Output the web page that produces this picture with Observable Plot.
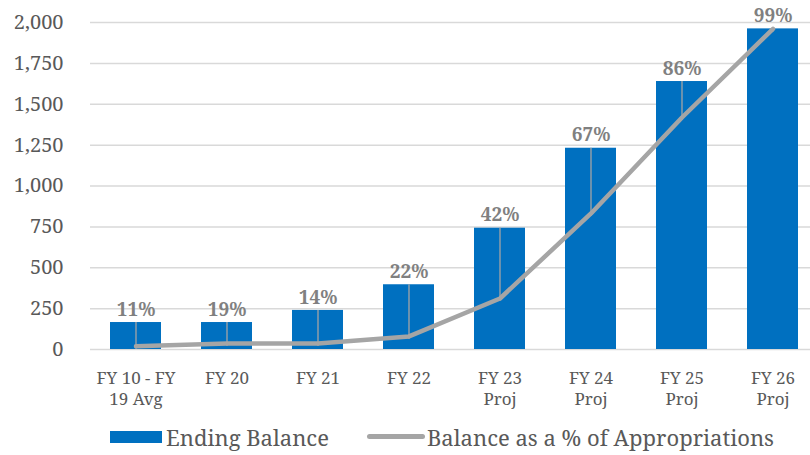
<!DOCTYPE html>
<html>
<head>
<meta charset="utf-8">
<script src="https://cdn.jsdelivr.net/npm/d3@7"></script>
<script src="https://cdn.jsdelivr.net/npm/@observablehq/plot@0.6"></script>
<style>
  html, body { margin: 0; padding: 0; background: #fff; }
  #chart { width: 810px; }
  .legend { display: flex; align-items: center; height: 37px; padding-left: 110px;
    font-family: 'Noto Serif', 'Liberation Serif', serif; font-size: 22px; color: #595959; }
  .sw-bar { width: 52px; height: 12px; background: #0070c0; margin-right: 4px; }
  .sw-line { width: 58px; height: 5px; border-radius: 3px; background: #a5a5a5; margin-left: 38px; margin-right: 2px; }
</style>
</head>
<body>
<div id="chart"></div>
<script>
const categories = ["FY 10 - FY\n19 Avg", "FY 20", "FY 21", "FY 22", "FY 23\nProj", "FY 24\nProj", "FY 25\nProj", "FY 26\nProj"];
const endingBalance = [165, 165, 239, 396, 742, 1231, 1639, 1961];
const lineLevel = [20, 37, 37, 80, 312, 832, 1419, 1961];
const pctLabels = [11, 19, 14, 22, 42, 67, 86, 99];
const yTicks = [0, 250, 500, 750, 1000, 1250, 1500, 1750, 2000];

const data = categories.map((c, i) => ({cat: c, bal: endingBalance[i], lvl: lineLevel[i], pct: pctLabels[i]}));

const font = "'Noto Serif', 'Liberation Serif', serif";
const chart = Plot.plot({
  width: 810,
  height: 418,
  marginTop: 22,
  marginBottom: 69,
  marginLeft: 90,
  marginRight: 0,
  style: {fontFamily: font, background: "#fff", overflow: "visible"},
  x: {domain: categories, range: [90, 818], paddingInner: 0.44, paddingOuter: 0.22},
  y: {domain: [0, 2000]},
  marks: [
    Plot.ruleY(yTicks, {stroke: "#d9d9d9", strokeWidth: 1.5}),
    Plot.barY(data, {x: "cat", y: "bal", fill: "#0070c0"}),
    Plot.ruleX(data, {x: "cat", y1: "lvl", y2: "bal", stroke: "#a5a5a5", strokeWidth: 1.3, insetTop: 3}),
    Plot.line(data, {x: "cat", y: "lvl", stroke: "#a5a5a5", strokeWidth: 4.5, strokeLinejoin: "round", strokeLinecap: "round"}),
    Plot.text(data, {x: "cat", y: "bal", text: d => d.pct + "%", dy: -13, fill: "#808080", fontWeight: "bold", fontSize: 19, fontFamily: font}),
    Plot.axisY({ticks: yTicks, tickFormat: d3.format(",.0f"), tickSize: 0, tickPadding: 27, fontSize: 20, color: "#595959", label: null, fontFamily: font}),
    Plot.axisX({tickSize: 0, tickPadding: 20, fontSize: 17, lineHeight: 1.22, color: "#595959", label: null, fontFamily: font})
  ]
});
document.getElementById("chart").appendChild(chart);

const legend = document.createElement("div");
legend.className = "legend";
legend.innerHTML = '<span class="sw-bar"></span><span>Ending Balance</span><span class="sw-line"></span><span>Balance as a % of Appropriations</span>';
document.getElementById("chart").appendChild(legend);
</script>
</body>
</html>
